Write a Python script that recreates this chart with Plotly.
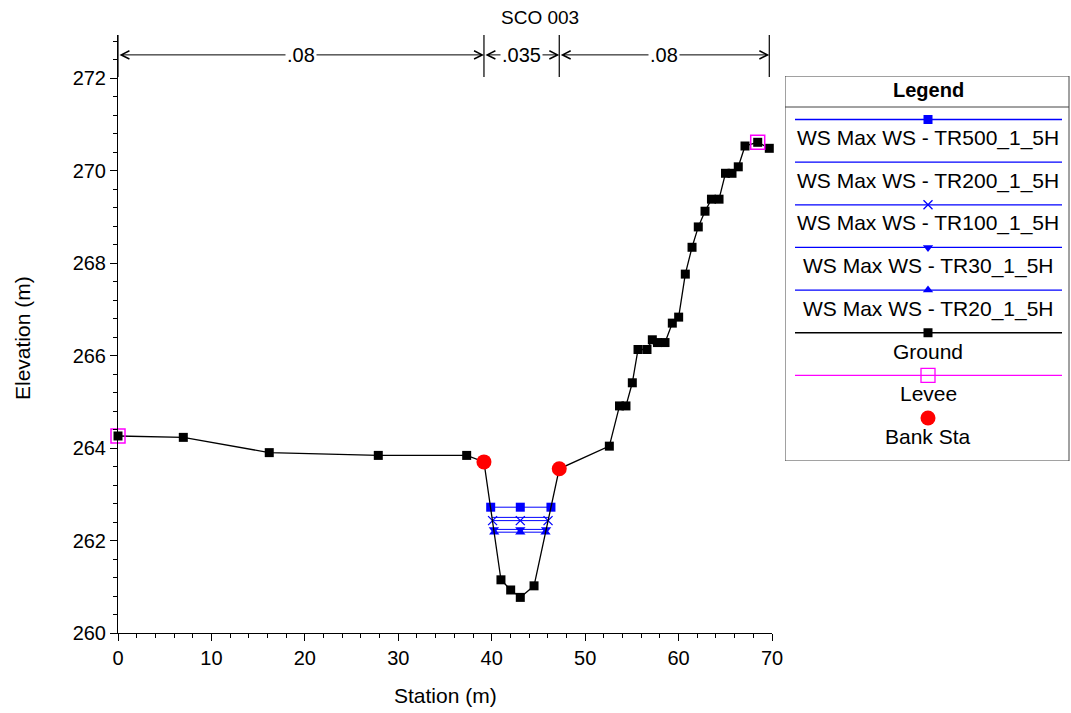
import plotly.graph_objects as go

# ---------------- data ----------------
station = [0.0, 6.99, 16.19, 27.86, 37.32, 39.17, 40.99, 42.03, 43.06, 44.53, 47.23,
           52.59, 53.68, 54.37, 55.05, 55.66, 56.62, 57.19, 57.74, 58.55, 59.33, 60.01,
           60.72, 61.44, 62.11, 62.83, 63.52, 64.33, 65.02, 65.72, 66.39, 67.11, 68.47, 69.71]
elevation = [264.26, 264.23, 263.90, 263.84, 263.84, 263.70, 261.15, 260.93, 260.77, 261.02, 263.55,
             264.04, 264.91, 264.91, 265.41, 266.13, 266.13, 266.34, 266.28, 266.28, 266.70, 266.83,
             267.76, 268.34, 268.78, 269.12, 269.38, 269.38, 269.94, 269.94, 270.08, 270.53, 270.61, 270.48]

levee_sta = [0.0, 68.47]
levee_elev = [264.26, 270.61]

bank_sta = [39.17, 47.23]
bank_elev = [263.70, 263.55]

ws_names = ["WS Max WS - TR500_1_5H", "WS Max WS - TR200_1_5H", "WS Max WS - TR100_1_5H",
            "WS Max WS - TR30_1_5H", "WS Max WS - TR20_1_5H"]
ws_tr500_sta = [39.89, 43.06, 46.34]
ws_tr200_sta = [40.04, 43.06, 46.10]
ws_tr100_sta = [40.09, 43.06, 46.03]
ws_tr30_sta = [40.23, 43.06, 45.82]
ws_tr20_sta = [40.27, 43.06, 45.76]
ws_elev = [262.72, 262.50, 262.43, 262.24, 262.18]

n_bounds = [0.0, 39.17, 47.23, 69.71]
n_values = [".08", ".035", ".08"]

x_ticks = [0, 10, 20, 30, 40, 50, 60, 70]
y_ticks = [260, 262, 264, 266, 268, 270, 272]

# ---------------- style ----------------
W, H = 1071, 713
FONT = "Liberation Sans, Arial, sans-serif"
BLUE = "#0000FF"
PLOT_L, PLOT_R, PLOT_T, PLOT_B = 118, 772, 35, 633
Y_MIN, Y_MAX = 260, 272.93
N_Y = 272.5

ws_sta_list = [ws_tr500_sta, ws_tr200_sta, ws_tr100_sta, ws_tr30_sta, ws_tr20_sta]
ws_symbols = ["square", None, "x-thin-open", "triangle-down", "triangle-up"]

fig = go.Figure()

for name, sta, el, sym in zip(ws_names, ws_sta_list, ws_elev, ws_symbols):
    mode = "lines+markers" if sym else "lines"
    marker = dict(symbol=sym or "circle", size=9, color=BLUE,
                  line=dict(color=BLUE, width=1.3 if sym == "x-thin-open" else 0))
    fig.add_trace(go.Scatter(x=sta, y=[el] * len(sta), mode=mode, name=name,
                             line=dict(color=BLUE, width=1), marker=marker,
                             showlegend=False, cliponaxis=False))

fig.add_trace(go.Scatter(x=station, y=elevation, mode="lines+markers", name="Ground",
                         line=dict(color="black", width=1.3),
                         marker=dict(symbol="square", size=9, color="black"),
                         showlegend=False, cliponaxis=False))
fig.add_trace(go.Scatter(x=levee_sta, y=levee_elev, mode="markers", name="Levee",
                         marker=dict(symbol="square-open", size=14, color="#FF00FF",
                                     line=dict(width=1.5, color="#FF00FF")),
                         showlegend=False, cliponaxis=False))
fig.add_trace(go.Scatter(x=bank_sta, y=bank_elev, mode="markers", name="Bank Sta",
                         marker=dict(symbol="circle", size=15, color="#FF0000"),
                         showlegend=False, cliponaxis=False))

annotations = []
shapes = []

# Manning's n boundaries
for b in n_bounds:
    shapes.append(dict(type="line", xref="x", yref="y", x0=b, x1=b,
                       y0=272.02, y1=Y_MAX, line=dict(color="black", width=1.2)))
for i, val in enumerate(n_values):
    left, right = n_bounds[i], n_bounds[i + 1]
    annotations.append(dict(xref="x", yref="y", axref="x", ayref="y",
                            x=right, y=N_Y, ax=left, ay=N_Y, text="",
                            showarrow=True, arrowhead=5, arrowside="end+start",
                            arrowsize=1.6, arrowwidth=1, arrowcolor="black",
                            standoff=0, startstandoff=0))
    annotations.append(dict(xref="x", yref="y", x=(left + right) / 2, y=N_Y, text=val,
                            showarrow=False, bgcolor="white", borderpad=1,
                            xanchor="center", yanchor="middle",
                            font=dict(family=FONT, size=20, color="black")))

# title and axis titles
annotations.append(dict(xref="paper", yref="paper", x=540 / W, y=1 - 17 / H, text="SCO 003",
                        xanchor="center", yanchor="middle",
                        showarrow=False, font=dict(family=FONT, size=19, color="black")))
annotations.append(dict(xref="paper", yref="paper", x=445 / W, y=1 - 695 / H, text="Station (m)",
                        xanchor="center", yanchor="middle",
                        showarrow=False, font=dict(family=FONT, size=21, color="black")))
annotations.append(dict(xref="paper", yref="paper", x=22 / W, y=1 - 338 / H, text="Elevation (m)",
                        xanchor="center", yanchor="middle",
                        textangle=-90, showarrow=False, font=dict(family=FONT, size=21, color="black")))

# ---------------- custom legend (layout in pixel units on helper axes) ----------------
LG_L, LG_R, LG_T, LG_B = 785, 1070, 76, 461
shapes.append(dict(type="rect", xref="x2", yref="y2", x0=LG_L, x1=LG_R - 1, y0=LG_T, y1=LG_B,
                   line=dict(color="#444444", width=1), fillcolor="rgba(0,0,0,0)"))
shapes.append(dict(type="line", xref="x2", yref="y2", x0=LG_L, x1=LG_R - 1, y0=107, y1=107,
                   line=dict(color="#444444", width=1)))
annotations.append(dict(xref="x2", yref="y2", x=928, y=90, text="<b>Legend</b>", showarrow=False,
                        xanchor="center", yanchor="middle",
                        font=dict(family=FONT, size=20, color="black")))

legend_items = [
    (ws_names[0], BLUE, "square", 9),
    (ws_names[1], BLUE, None, 9),
    (ws_names[2], BLUE, "x-thin-open", 9),
    (ws_names[3], BLUE, "triangle-down", 9),
    (ws_names[4], BLUE, "triangle-up", 9),
    ("Ground", "black", "square", 9),
    ("Levee", "#FF00FF", "square-open", 14),
    ("Bank Sta", "#FF0000", "circle", 15),
]
LX0, LX1, LCX = 795, 1062, 928
for k, (label, col, sym, sz) in enumerate(legend_items):
    ly = 119.5 + 42.65 * k
    if label != "Bank Sta":
        fig.add_trace(go.Scatter(x=[LX0, LX1], y=[ly, ly], mode="lines", xaxis="x2", yaxis="y2",
                                 line=dict(color=col, width=1.3), showlegend=False,
                                 hoverinfo="skip", cliponaxis=False))
    if sym:
        lw = 1.3 if sym in ("x-thin-open", "square-open") else 0
        fig.add_trace(go.Scatter(x=[LCX], y=[ly], mode="markers", xaxis="x2", yaxis="y2",
                                 marker=dict(symbol=sym, size=sz, color=col,
                                             line=dict(color=col, width=lw)),
                                 showlegend=False, hoverinfo="skip", cliponaxis=False))
    annotations.append(dict(xref="x2", yref="y2", x=LCX, y=ly + 18.5, text=label, showarrow=False,
                            xanchor="center", yanchor="middle",
                            font=dict(family=FONT, size=21, color="black")))

tickfont = dict(family=FONT, size=20, color="black")
fig.update_layout(
    width=W, height=H,
    margin=dict(l=0, r=0, t=0, b=0, pad=0),
    paper_bgcolor="white", plot_bgcolor="white",
    showlegend=False,
    xaxis=dict(domain=[PLOT_L / W, PLOT_R / W], range=[0, 70], anchor="y",
               tickmode="array", tickvals=x_ticks, ticks="outside", ticklen=7, tickwidth=1,
               tickcolor="black", minor=dict(dtick=2, tick0=0, ticks="outside", ticklen=4,
                                             tickcolor="black", tickwidth=1),
               showline=True, linecolor="black", linewidth=1, showgrid=False, zeroline=False,
               tickfont=tickfont, automargin=False),
    yaxis=dict(domain=[1 - PLOT_B / H, 1 - PLOT_T / H], range=[Y_MIN, Y_MAX], anchor="x",
               tickmode="array", tickvals=y_ticks, ticks="outside", ticklen=7, tickwidth=1,
               tickcolor="black", minor=dict(dtick=0.4, tick0=260, ticks="outside", ticklen=4,
                                             tickcolor="black", tickwidth=1),
               showline=True, linecolor="black", linewidth=1, showgrid=False, zeroline=False,
               tickfont=tickfont, automargin=False),
    xaxis2=dict(domain=[LG_L / W, 1.0], range=[LG_L, W], anchor="y2", visible=False,
                fixedrange=True),
    yaxis2=dict(domain=[1 - LG_B / H, 1 - LG_T / H], range=[LG_B, LG_T], anchor="x2",
                visible=False, fixedrange=True),
    annotations=annotations,
    shapes=shapes,
)

fig.write_html("out.html", config={"displayModeBar": False},
               post_script="document.body.style.margin='0';document.body.style.overflow='hidden';")
